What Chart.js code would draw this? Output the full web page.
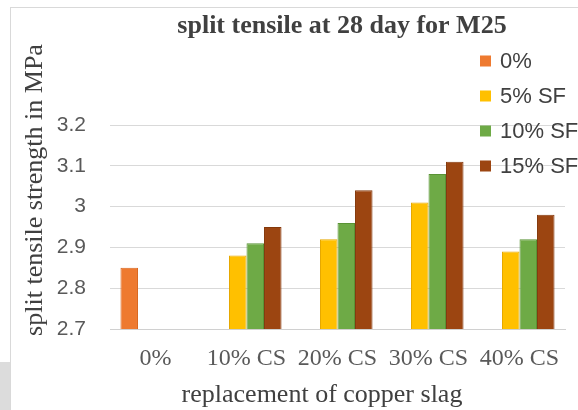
<!DOCTYPE html>
<html>
<head>
<meta charset="utf-8">
<script src="https://cdn.jsdelivr.net/npm/chart.js@4/dist/chart.umd.min.js"></script>
<style>
  html, body { margin: 0; padding: 0; background: #ffffff; }
  #wrap { width: 578px; height: 410px; position: relative; }
</style>
</head>
<body>
<div id="wrap"><canvas id="c" width="578" height="410"></canvas></div>
<script>
// ---- data ----
const categories = ["0%", "10% CS", "20% CS", "30% CS", "40% CS"];
const seriesNames = ["0%", "5% SF", "10% SF", "15% SF"];
const control   = [2.85, null, null, null, null];
const sf5       = [null, 2.88, 2.92, 3.01, 2.89];
const sf10      = [null, 2.91, 2.96, 3.08, 2.92];
const sf15      = [null, 2.95, 3.04, 3.11, 2.98];
const yTicks    = [2.7, 2.8, 2.9, 3.0, 3.1, 3.2];
const colors    = ["#EE7A30", "#FFC000", "#6EAA46", "#9C4511"];
const borders   = ["#D9651C", "#E6A800", "#5A9335", "#84380B"];
const titleText  = 'split tensile at 28 day for M25';
const xTitleText = 'replacement of copper slag';
const yTitleText = 'split tensile strength in MPa';

const seriesValues = [control, sf5, sf10, sf15];

const framePlugin = {
  id: 'frame',
  beforeDraw(chart) {
    const ctx = chart.ctx;
    ctx.save();
    ctx.fillStyle = '#ffffff';
    ctx.fillRect(0, 0, chart.width, chart.height);
    ctx.fillStyle = '#dcdcdc';
    ctx.fillRect(0, 362, 10, 48);
    ctx.strokeStyle = '#d9d9d9';
    ctx.lineWidth = 1;
    ctx.strokeRect(10.5, 7.5, 700, 600);
    ctx.restore();
  },
  afterLayout(chart) {
    if (chart.titleBlock) {
      chart.titleBlock.left = 106;
      chart.titleBlock.right = 578;
      chart.titleBlock.width = 472;
    }
  },
  afterDraw(chart) {
    const ctx = chart.ctx;
    ctx.save();
    // legend
    ctx.font = '22px "Liberation Sans", Arial, sans-serif';
    ctx.textBaseline = 'middle';
    ctx.textAlign = 'left';
    const ys = [61, 96, 131, 166];
    chart.data.datasets.forEach((ds, i) => {
      const y = ys[i];
      ctx.fillStyle = ds.backgroundColor;
      ctx.fillRect(480, y - 5.5, 11, 11);
      ctx.fillStyle = '#404040';
      ctx.fillText(ds.label, 500, y + 1);
    });
    // axis titles
    ctx.fillStyle = '#404040';
    ctx.font = '26px "Liberation Serif", "Times New Roman", serif';
    ctx.textAlign = 'center';
    ctx.textBaseline = 'middle';
    ctx.fillText(xTitleText, 322, 395);
    ctx.translate(35, 190);
    ctx.rotate(-Math.PI / 2);
    ctx.fillText(yTitleText, 0, 0);
    ctx.restore();
  }
};

new Chart(document.getElementById('c'), {
  type: 'bar',
  data: {
    labels: categories,
    datasets: seriesNames.map((name, i) => ({
      label: name,
      data: seriesValues[i],
      backgroundColor: colors[i],
      borderColor: borders[i],
      borderWidth: 1,
      barPercentage: 1.0,
      categoryPercentage: 0.77
    }))
  },
  options: {
    responsive: false,
    animation: false,
    devicePixelRatio: 1,
    layout: { padding: { left: 8, right: 13, top: 0, bottom: 0 } },
    plugins: {
      legend: { display: false },
      tooltip: { enabled: false },
      title: {
        display: true,
        text: titleText,
        color: '#404040',
        font: { family: '"Liberation Serif", "Times New Roman", serif', size: 26, weight: 'bold', lineHeight: 1.2 },
        padding: { top: 11, bottom: 82.8 }
      }
    },
    scales: {
      x: {
        grid: { display: false, drawTicks: false },
        border: { display: true, color: '#d0d0d0' },
        ticks: {
          color: '#595959',
          font: { family: '"Liberation Serif", "Times New Roman", serif', size: 24, lineHeight: 1.2 },
          padding: 15,
          maxRotation: 0,
          autoSkip: false
        },
        afterFit(scale) { scale.height = 81; }
      },
      y: {
        min: 2.7,
        max: 3.2,
        afterBuildTicks(scale) { scale.ticks = yTicks.map(v => ({ value: v })); },
        grid: { color: '#d9d9d9', drawTicks: false },
        border: { display: false },
        ticks: {
          color: '#595959',
          font: { family: '"Liberation Sans", Arial, sans-serif', size: 21 },
          padding: 24,
          callback: (v) => String(Math.round(v * 10) / 10)
        },
        afterFit(scale) { scale.width = 102; }
      }
    }
  },
  plugins: [framePlugin]
});
</script>
</body>
</html>
